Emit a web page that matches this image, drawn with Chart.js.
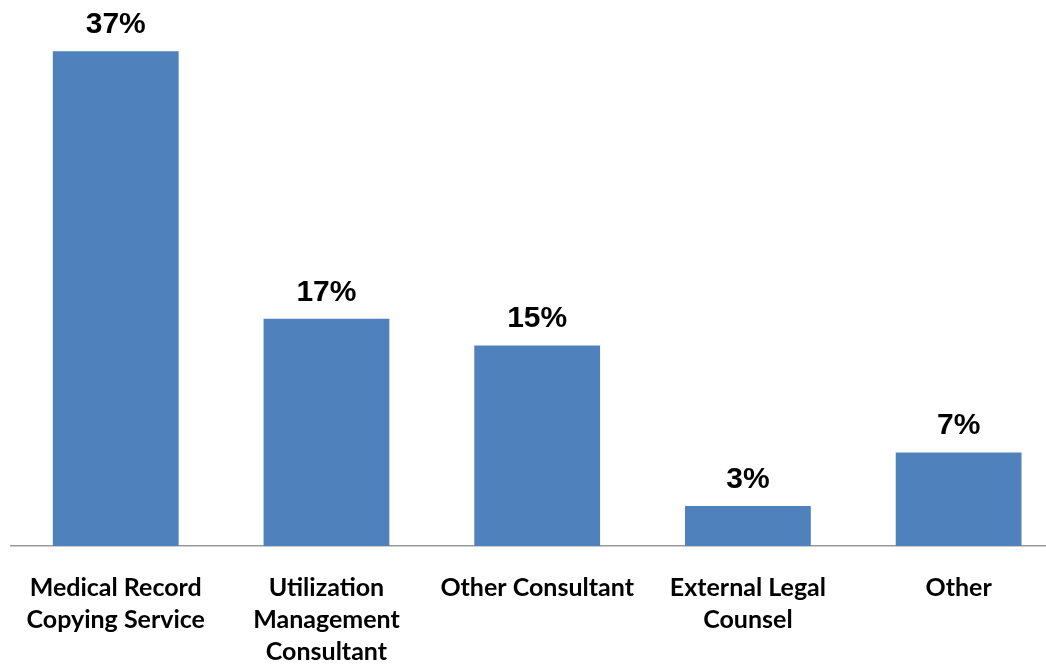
<!DOCTYPE html>
<html>
<head>
<meta charset="utf-8">
<script src="https://cdn.jsdelivr.net/npm/chart.js@4"></script>
<style>
  html, body { margin: 0; padding: 0; background: #fff; overflow: hidden; }
  #wrap { width: 1064px; height: 705px; position: relative; }
</style>
</head>
<body>
<div id="wrap"><canvas id="grafico"></canvas></div>
<script>
const categorias = [
    ['Medical Record', 'Copying Service'],
    ['Utilization', 'Management', 'Consultant'],
    ['Other Consultant'],
    ['External Legal', 'Counsel'],
    ['Other']
];
const percentuais = [37, 17, 15, 3, 7];

// rotulos de valor em cima das barras
const rotulosPlugin = {
    id: 'rotulos',
    afterDatasetsDraw(chart) {
        const ctx = chart.ctx;
        const meta = chart.getDatasetMeta(0);
        ctx.save();
        ctx.font = 'bold 30px "Liberation Sans", Arial, sans-serif';
        ctx.fillStyle = '#000';
        ctx.textAlign = 'center';
        ctx.textBaseline = 'alphabetic';
        meta.data.forEach((bar, i) => {
            ctx.fillText(percentuais[i] + '%', bar.x, bar.y - 18);
        });
        ctx.restore();
    }
};

const ctx = document.getElementById('grafico').getContext('2d');
new Chart(ctx, {
    type: 'bar',
    data: {
        labels: categorias,
        datasets: [{
            data: percentuais,
            backgroundColor: '#4F81BD',
            borderWidth: 0,
            categoryPercentage: 1,
            barPercentage: 0.597
        }]
    },
    options: {
        responsive: true,
        maintainAspectRatio: false,
        animation: false,
        layout: { padding: { left: 5, right: 0, top: 11, bottom: 11 } },
        plugins: { legend: { display: false }, tooltip: { enabled: false } },
        scales: {
            y: { display: false, min: 0, max: 40 },
            x: {
                grid: { display: false, drawTicks: false },
                border: { display: true, color: '#999', width: 1.5 },
                ticks: {
                    color: '#000',
                    padding: 26,
                    maxRotation: 0,
                    autoSkip: false,
                    font: { family: 'Lato, "Open Sans", sans-serif', weight: 'bold', size: 25, lineHeight: 1.28 }
                }
            }
        }
    },
    plugins: [rotulosPlugin]
});
</script>
</body>
</html>
